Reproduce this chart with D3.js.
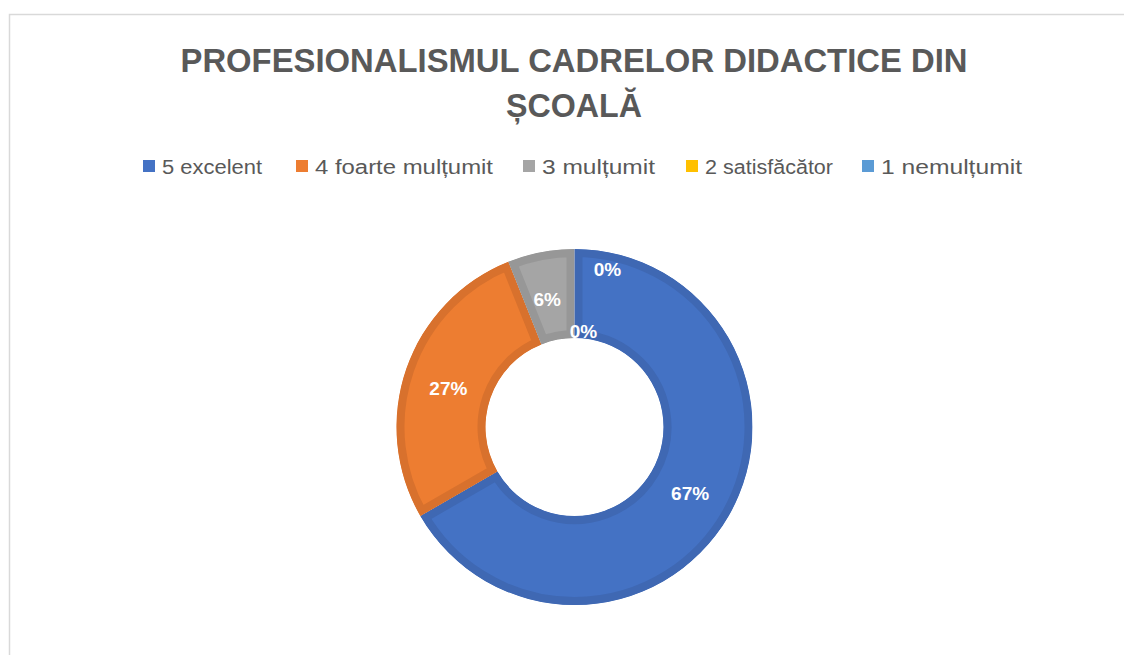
<!DOCTYPE html>
<html><head><meta charset="utf-8">
<script src="https://cdn.jsdelivr.net/npm/d3@7"></script>
<style>html,body{margin:0;padding:0;background:#fff;overflow:hidden}</style>
</head><body>
<svg id="c" width="1124" height="655"></svg>
<script>
const titleLines = ["PROFESIONALISMUL CADRELOR DIDACTICE DIN", "ȘCOALĂ"];
const categories = ["5 excelent", "4 foarte mulțumit", "3 mulțumit", "2 satisfăcător", "1 nemulțumit"];
const values = [22, 9, 2, 0, 0];
const colors = ["#4472C4", "#ED7D31", "#A5A5A5", "#FFC000", "#5B9BD5"];
const edgeColors = ["#3F68B3", "#D8712D", "#979797", "#E8AF00", "#5390C6"];
const labelNudge = [[0,0],[0,5],[-2,3],[33,-24],[9,38]];

const svg = d3.select("#c");
svg.append("rect").attr("x",9.5).attr("y",14.5).attr("width",1200).attr("height",700)
  .attr("fill","#fff").attr("stroke","#D9D9D9").attr("stroke-width",1.5);

const font = "'Liberation Sans Narrow', 'Liberation Sans', Arial, sans-serif";
const font2 = "'Liberation Sans', Arial, sans-serif";
svg.append("text").attr("x",574).attr("y",72).attr("text-anchor","middle")
  .attr("font-family",font).attr("font-weight","bold").attr("font-size",33).attr("fill","#595959")
  .attr("textLength",787).attr("lengthAdjust","spacingAndGlyphs").text(titleLines[0]);
svg.append("text").attr("x",574).attr("y",117).attr("text-anchor","middle")
  .attr("font-family",font).attr("font-weight","bold").attr("font-size",33).attr("fill","#595959")
  .attr("textLength",136).attr("lengthAdjust","spacingAndGlyphs").text(titleLines[1]);

// legend
const legX = [143, 296, 523, 686, 862];
const legW = [100, 178, 113, 128, 141];
const leg = svg.append("g");
categories.forEach((c,i)=>{
  leg.append("rect").attr("x",legX[i]).attr("y",160).attr("width",12).attr("height",12).attr("fill",colors[i]);
  leg.append("text").attr("x",legX[i]+19).attr("y",174).attr("font-family",font).attr("font-size",20)
    .attr("fill","#595959").attr("textLength",legW[i]).attr("lengthAdjust","spacingAndGlyphs").text(c);
});

// donut
const cx = 574.5, cy = 427, rO = 178, rI = 89;
const total = d3.sum(values);
const pie = d3.pie().sort(null).value(d=>d)(values);
const arc = d3.arc().innerRadius(rI).outerRadius(rO);
const g = svg.append("g").attr("transform",`translate(${cx},${cy})`);
const defs = svg.append("defs");
pie.forEach((p,i)=>{
  if (p.endAngle - p.startAngle <= 0) return;
  defs.append("clipPath").attr("id","cp"+i).append("path").attr("d",arc(p));
  g.append("path").attr("d",arc(p)).attr("fill",colors[i])
    .attr("stroke",edgeColors[i]).attr("stroke-width",16).attr("clip-path",`url(#cp${i})`);
});
const lab = d3.arc().innerRadius((rI+rO)/2).outerRadius((rI+rO)/2);
pie.forEach((p,i)=>{
  const [x,y] = lab.centroid(p);
  g.append("text").attr("x",x+labelNudge[i][0]).attr("y",y+labelNudge[i][1]).attr("dy","0.35em")
    .attr("text-anchor","middle").attr("font-family",font2).attr("font-weight","bold")
    .attr("font-size",19).attr("fill","#fff").text(Math.round(values[i]/total*100)+"%");
});
</script>
</body></html>
